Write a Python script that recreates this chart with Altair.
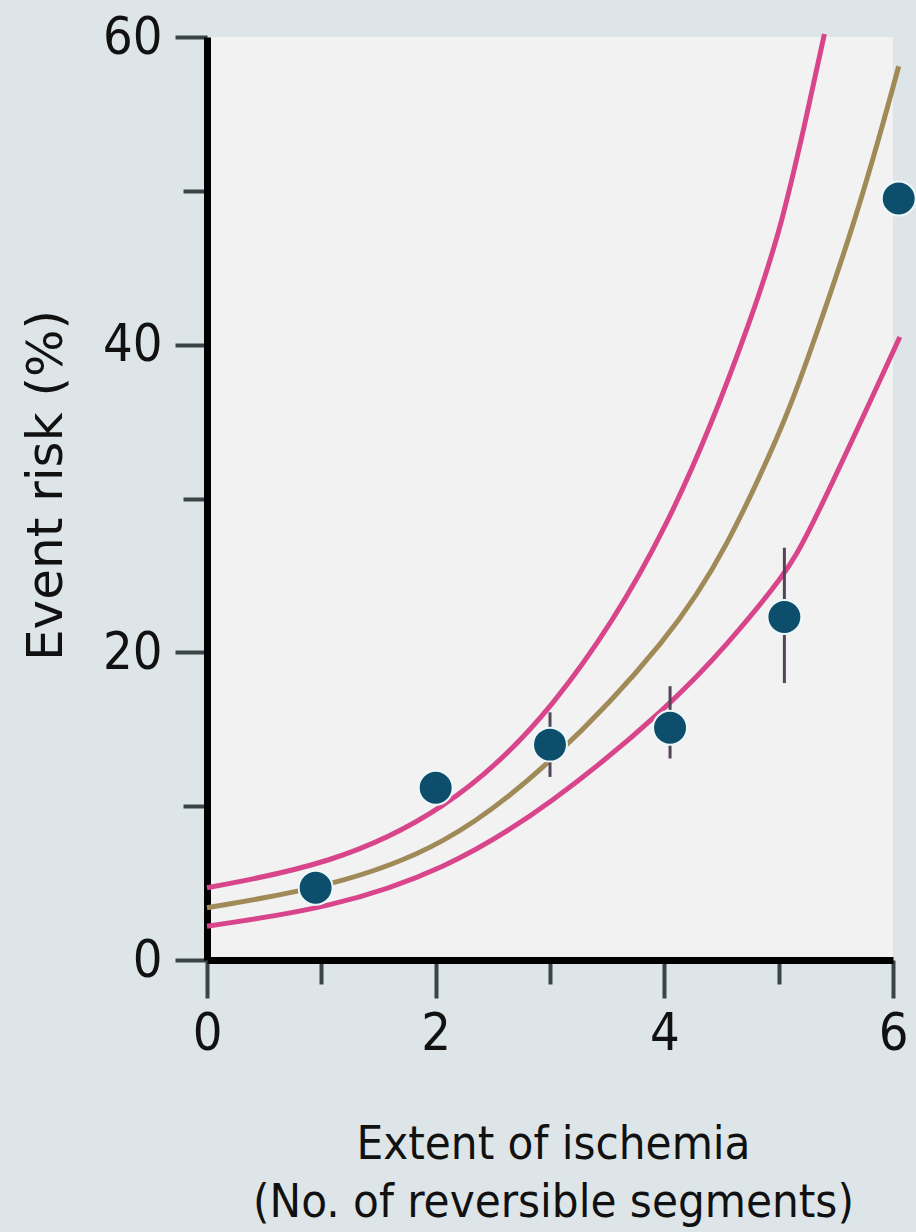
import altair as alt
import pandas as pd

# Observed event risk by number of reversible segments
seg_x = [0.95, 2.0, 3.0, 4.05, 5.05, 6.05]
risk = [4.7, 11.2, 14.0, 15.1, 22.3, 49.5]

# Error bars (where they extend beyond the markers)
err_x = [3.0, 4.05, 5.05]
err_lo = [11.9, 13.1, 18.0]
err_hi = [16.1, 17.8, 26.8]

# Fitted curve and its confidence band
fit_x = [0.0, 1.08, 2.07, 3.0, 4.06, 4.55, 5.03, 5.2, 5.7, 6.05]
fit_y = [3.4, 4.75, 7.3, 12.6, 21.0, 26.8, 34.6, 37.9, 48.6, 58.1]

upper_x = [0.0, 1.08, 2.07, 3.0, 4.06, 4.83, 5.03, 5.22, 5.4]
upper_y = [4.7, 6.2, 9.6, 15.7, 27.8, 43.0, 48.0, 54.0, 60.2]

lower_x = [0.0, 1.08, 2.07, 3.0, 4.06, 4.55, 5.05, 5.26, 6.06]
lower_y = [2.2, 3.38, 5.8, 10.0, 16.6, 20.5, 25.0, 27.6, 40.5]

curves = pd.DataFrame(
    [{"x": a, "y": b, "curve": "upper"} for a, b in zip(upper_x, upper_y)]
    + [{"x": a, "y": b, "curve": "fit"} for a, b in zip(fit_x, fit_y)]
    + [{"x": a, "y": b, "curve": "lower"} for a, b in zip(lower_x, lower_y)]
)
points = pd.DataFrame({"x": seg_x, "y": risk})
errs = pd.DataFrame({"x": err_x, "lo": err_lo, "hi": err_hi})

FONT_NARROW = "DejaVu Sans Condensed, Liberation Sans Narrow, Liberation Sans, sans-serif"

x_scale = alt.Scale(domain=[0, 6], nice=False, zero=False)
y_scale = alt.Scale(domain=[0, 60], nice=False, zero=False)

x_axis = alt.Axis(
    values=[0, 1, 2, 3, 4, 5, 6],
    format="d",
    labelExpr="datum.value % 2 === 0 ? datum.label : ''",
    labelFlush=False,
    tickSize={"condition": {"test": "datum.value % 2 === 0", "value": 38}, "value": 24},
    labelPadding=10,
    labelFontSize=52,
    labelFont=FONT_NARROW,
    labelColor="#111111",
    title=["Extent of ischemia", "(No. of reversible segments)"],
    titleFont=FONT_NARROW,
    titleFontSize=47,
    titleFontWeight="normal",
    titleColor="#111111",
    titleX=346,
    titleY=198,
    titleAlign="center",
    titleAnchor="middle",
    titleBaseline="alphabetic",
    titleLineHeight=58,
    grid=False,
)

y_axis = alt.Axis(
    values=[0, 10, 20, 30, 40, 50, 60],
    format="d",
    labelExpr="datum.value % 20 === 0 ? datum.label : ''",
    labelFlush=False,
    tickSize={"condition": {"test": "datum.value % 20 === 0", "value": 32}, "value": 24},
    labelPadding=13,
    labelFontSize=52,
    labelFont=FONT_NARROW,
    labelColor="#111111",
    title="Event risk (%)",
    titleFont="DejaVu Sans",
    titleFontSize=50,
    titleFontWeight="normal",
    titleColor="#111111",
    titleAngle=270,
    titleX=-146,
    titleY=448,
    titleAlign="center",
    titleBaseline="alphabetic",
    grid=False,
)

lines = alt.Chart(curves).mark_line(strokeWidth=5, interpolate="basis").encode(
    x=alt.X("x:Q", scale=x_scale, axis=x_axis),
    y=alt.Y("y:Q", scale=y_scale, axis=y_axis),
    color=alt.Color(
        "curve:N",
        scale=alt.Scale(domain=["upper", "fit", "lower"],
                        range=["#d8458a", "#a08a58", "#d8458a"]),
        legend=None,
    ),
    detail="curve:N",
)

bars = alt.Chart(errs).mark_rule(strokeWidth=3, color="#544458").encode(
    x=alt.X("x:Q", scale=x_scale),
    y=alt.Y("lo:Q", scale=y_scale),
    y2="hi:Q",
)

dots = alt.Chart(points).mark_circle(
    size=1150, color="#0c4e6c", opacity=1, stroke="#eef8fa", strokeWidth=2
).encode(
    x=alt.X("x:Q", scale=x_scale),
    y=alt.Y("y:Q", scale=y_scale),
)

chart = (
    alt.layer(lines, bars, dots)
    .properties(
        width=686,
        height=923,
        autosize=alt.AutoSizeParams(type="none"),
        padding={"left": 207, "top": 37, "right": 23, "bottom": 272},
        background="#dde5e8",
    )
    .configure_view(fill="#f2f2f2", stroke=None)
    .configure_axis(
        domainColor="#000000",
        domainWidth=7,
        tickColor="#3a4444",
        tickWidth=4,
    )
)

chart.save("out.html", embed_options={"renderer": "svg", "actions": False})
